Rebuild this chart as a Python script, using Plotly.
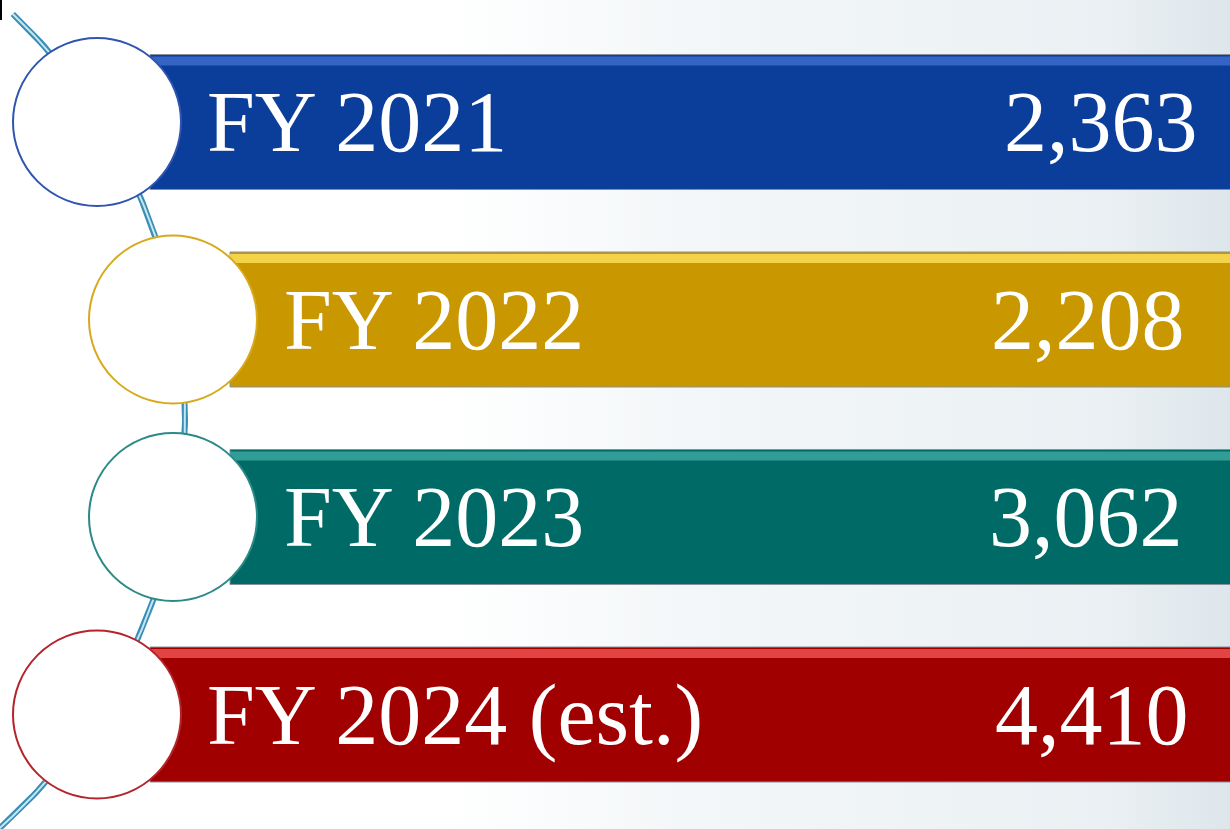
import numpy as np
import plotly.graph_objects as go

# datos del gráfico
etiquetas = ["FY 2021", "FY 2022", "FY 2023", "FY 2024 (est.)"]
valores = [2363, 2208, 3062, 4410]
colores = ["#0B3D9B", "#C99700", "#006A67", "#A00000"]
brillos = ["#3F6FCF", "#FFE25A", "#3FA9A4", "#F25555"]
bordes = ["#2F55B0", "#D6AA1C", "#2B8A86", "#B5242A"]

W, H = 1230, 829
fila0, paso = 122, 197.5      # centro de la primera fila y separación
alto = 135                    # alto de cada banda
inicio = [150, 230, 230, 150]  # borde izquierdo de cada banda
circ_x = [97, 173, 173, 97]
radio = 84
texto_x = [205, 282, 282, 205]
num_x = [1200, 1187, 1185, 1191]

fig = go.Figure()

# fondo con degradado claro hacia la derecha
fig.add_trace(go.Scatter(
    x=[0, W, W, 0, 0], y=[0, 0, H, H, 0], mode="lines", fill="toself",
    line=dict(width=0),
    fillgradient=dict(type="horizontal",
                      colorscale=[[0, "#FFFFFF"], [0.36, "#FFFFFF"],
                                  [0.55, "#F4F7F9"], [0.9, "#EAF0F3"],
                                  [1, "#DDE6EB"]]),
    hoverinfo="skip", showlegend=False))

# arco que une los círculos
cx, cy, R = -368, 415, 553
yy = np.linspace(14, H, 200)
xx = cx + np.sqrt(R**2 - (yy - cy)**2)
fig.add_trace(go.Scatter(x=xx, y=yy, mode="lines",
                         line=dict(color="#3A8DB4", width=6),
                         hoverinfo="skip", showlegend=False))
fig.add_trace(go.Scatter(x=xx, y=yy, mode="lines",
                         line=dict(color="#C4E8F3", width=2),
                         hoverinfo="skip", showlegend=False))

for i, (lab, val) in enumerate(zip(etiquetas, valores)):
    yc = fila0 + i * paso
    y0, y1 = yc - alto / 2, yc + alto / 2
    # banda
    fig.add_shape(type="rect", x0=inicio[i], x1=W + 5, y0=y0, y1=y1,
                  fillcolor=colores[i], line=dict(color="#8A9099", width=1),
                  layer="above")
    # brillo superior
    fig.add_shape(type="rect", x0=inicio[i], x1=W + 5, y0=y0 + 2, y1=y0 + 11,
                  fillcolor=brillos[i], line=dict(width=0), opacity=0.8,
                  layer="above")
    # círculo
    fig.add_shape(type="circle", x0=circ_x[i] - radio, x1=circ_x[i] + radio,
                  y0=yc - radio, y1=yc + radio, fillcolor="white",
                  line=dict(color=bordes[i], width=2), layer="above")
    fig.add_annotation(x=texto_x[i], y=yc, text=lab, showarrow=False,
                       xanchor="left", yanchor="middle",
                       font=dict(family="Liberation Serif", size=86, color="white"))
    fig.add_annotation(x=num_x[i], y=yc, text=f"{val:,}", showarrow=False,
                       xanchor="right", yanchor="middle",
                       font=dict(family="Liberation Serif", size=86, color="white"))

# pequeña marca negra arriba a la izquierda
fig.add_shape(type="line", x0=1, x1=1, y0=0, y1=20,
              line=dict(color="black", width=2), layer="above")

fig.update_xaxes(range=[0, W], visible=False, fixedrange=True)
fig.update_yaxes(range=[H, 0], visible=False, fixedrange=True)
fig.update_layout(width=W, height=H, margin=dict(l=0, r=0, t=0, b=0),
                  paper_bgcolor="white", plot_bgcolor="white",
                  showlegend=False)
fig.write_html("out.html", config={"displayModeBar": False},
               post_script="document.body.style.margin='0';")
